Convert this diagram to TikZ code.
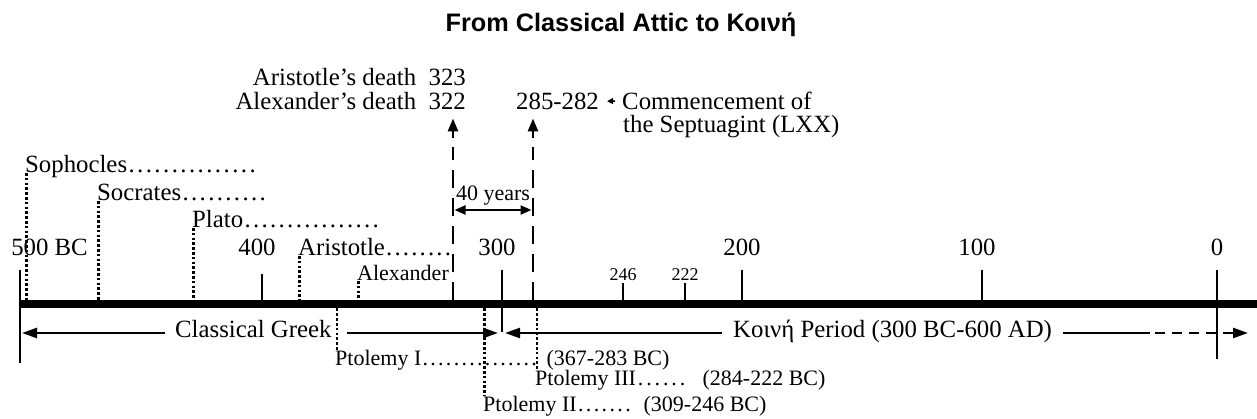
\documentclass[tikz,border=0pt]{standalone}
\usepackage{fontspec}
\setmainfont{Liberation Serif}
\setsansfont{Liberation Sans}
\usetikzlibrary{
    arrows.meta,
    positioning
}

% name followed by a run of dots, #1 = total width in pt
\newcommand\dotrun[2]{\makebox[#1pt][l]{#2\xleaders\hbox to .333em{\hss.\hss}\hfill}}

\begin{document}
\begin{tikzpicture}[x=1pt, y=-1pt,
    txt/.style={font=\fontsize{24.8}{26}\selectfont, inner sep=0pt},
    ptxt/.style={font=\fontsize{22}{24}\selectfont, inner sep=0pt},
    small/.style={font=\fontsize{18}{20}\selectfont, inner sep=0pt},
    period/.style={txt, anchor=west, text height=17pt, text depth=9pt},
    tick/.style={line width=1.8pt},
    leader/.style={line width=2.8pt, dash pattern=on 2.6pt off 2.2pt},
    guide/.style={line width=2.7pt, dash pattern=on 18pt off 10pt},
    arr/.style={line width=2.4pt, -{Triangle[length=15pt,width=10pt]}}
]
    \useasboundingbox (0,0) rectangle (1257,419);

    \node[font=\sffamily\bfseries\fontsize{25.3}{28}\selectfont, inner sep=0pt, anchor=base] (title) at (621,32) {From Classical Attic to Κοινή};

    % the time line
    \coordinate (bartop) at (0,300.5);
    \coordinate (barbot) at (0,308.5);
    \draw[line width=8pt] (20,304.5) -- (1257,304.5);
    \draw[tick] (20,270) -- (20,363);
    \draw[tick] (262,274) -- (262,301);
    \draw[tick] (502,270) -- (502,332);
    \draw[tick] (623,283) -- (623,301);
    \draw[tick] (685,283) -- (685,301);
    \draw[tick] (742,270) -- (742,301);
    \draw[tick] (982,270) -- (982,301);
    \draw[tick] (1217,270) -- (1217,359);

    \node[txt, anchor=base] (y500) at (49.5,256) {500 BC};
    \node[txt, anchor=base] (y400) at (257,256) {400};
    \node[txt, anchor=base] (y300) at (497,256) {300};
    \node[txt, anchor=base] (y200) at (742,256) {200};
    \node[txt, anchor=base] (y100) at (977,256) {100};
    \node[txt, anchor=base] (y0) at (1217,256) {0};
    \node[small, anchor=base] (y246) at (623,281) {246};
    \node[small, anchor=base] (y222) at (685,281) {222};

    % people above the line
    \node[txt, anchor=base west] (soph) at (25,173) {\dotrun{232}{Sophocles}};
    \node[txt, anchor=base west] (socr) at (97,201) {\dotrun{170}{Socrates}};
    \node[txt, anchor=base west] (plato) at (192,228) {\dotrun{188}{Plato}};
    \node[txt, anchor=base west] (arist) at (298,256) {\dotrun{154}{Aristotle}};
    \node[ptxt, anchor=base west] (alex) at (357,281) {Alexander};
    \draw[leader] ([xshift=1.2pt]soph.base west) -- ([xshift=1.2pt]soph.base west |- bartop);
    \draw[leader] ([xshift=1.2pt]socr.base west) -- ([xshift=1.2pt]socr.base west |- bartop);
    \draw[leader] ([xshift=1.2pt]plato.base west) -- ([xshift=1.2pt]plato.base west |- bartop);
    \draw[leader] ([xshift=1.2pt]arist.base west) -- ([xshift=1.2pt]arist.base west |- bartop);
    \draw[leader] ([xshift=1.2pt]alex.base west) -- ([xshift=1.2pt]alex.base west |- bartop);

    % Ptolemies below the line
    \node[ptxt, anchor=base west] (pt1) at (335,365) {\dotrun{203}{Ptolemy I}};
    \node[ptxt, base right=8pt of pt1] (pt1d) {(367-283 BC)};
    \node[ptxt, anchor=base west] (pt3) at (535,385) {\dotrun{152}{Ptolemy III}};
    \node[ptxt, base right=15pt of pt3] (pt3d) {(284-222 BC)};
    \node[ptxt, anchor=base west] (pt2) at (483,411) {\dotrun{149}{Ptolemy II}};
    \node[ptxt, base right=11pt of pt2] (pt2d) {(309-246 BC)};
    \draw[leader] ([xshift=2pt]pt1.north west |- barbot) -- ([xshift=2pt]pt1.north west);
    \draw[leader] ([xshift=1.2pt]pt2.north west |- barbot) -- ([xshift=1.2pt]pt2.north west);
    \draw[leader] ([xshift=2pt]pt3.north west |- barbot) -- ([xshift=2pt]pt3.north west);

    % deaths and the Septuagint
    \node[txt, anchor=base east] (ardeath) at (466,86) {Aristotle’s death\enspace323};
    \node[txt, anchor=base east] (aldeath) at (466,109.5) {Alexander’s death\enspace322};
    \node[txt, anchor=base west] (lxxyr) at (516,109.5) {285-282};
    \node[txt, anchor=base west] (comm) at (622,109.5) {Commencement of};
    \node[txt, anchor=base west] (lxx) at (623,133) {the Septuagint (LXX)};
    \draw[line width=1.5pt, -{Triangle[length=6pt,width=6pt]}, shorten <=7pt, shorten >=8pt] (comm.west) -- (lxxyr.east);

    \coordinate (g1) at (453,140);
    \coordinate (g2) at (533,140);
    \draw[guide] (g1 |- bartop) -- ([yshift=-7pt]g1);
    \draw[guide] (g2 |- bartop) -- ([yshift=-7pt]g2);
    \draw[line width=2.7pt, -{Triangle[length=13pt,width=10pt]}, shorten >=8.5pt] ([yshift=2pt]g1) -- (g1 |- aldeath.south);
    \draw[line width=2.7pt, -{Triangle[length=13pt,width=10pt]}, shorten >=8.5pt] ([yshift=2pt]g2) -- (g2 |- lxxyr.south);

    \node[ptxt, anchor=base] (forty) at (493,201) {40 years};
    \coordinate (span) at (0,210);
    \draw[line width=2.2pt, {Triangle[length=11pt,width=9pt]}-{Triangle[length=11pt,width=9pt]}, shorten <=1.5pt, shorten >=1.5pt] (g1 |- span) -- (g2 |- span);

    % the two periods
    \node[period, inner xsep=10pt] (cg) at (165,333) {Classical Greek};
    \coordinate (cgL) at (22,333);
    \coordinate (cgR) at (498,333);
    \draw[arr] (cg.west) -- (cgL);
    \draw[arr] ([xshift=5pt]cg.east) -- (cgR);

    \node[period, inner xsep=11pt] (kp) at (722,333) {Κοινή Period (300 BC-600 AD)};
    \coordinate (kpL) at (505,333);
    \coordinate (kpM) at (1150,333);
    \coordinate (kpR) at (1248,333);
    \draw[arr] (kp.west) -- (kpL);
    \draw[line width=2.4pt] (kp.east) -- (kpM);
    \draw[arr, dash pattern=on 10pt off 7pt] ([xshift=5pt]kpM) -- (kpR);
\end{tikzpicture}
\end{document}
